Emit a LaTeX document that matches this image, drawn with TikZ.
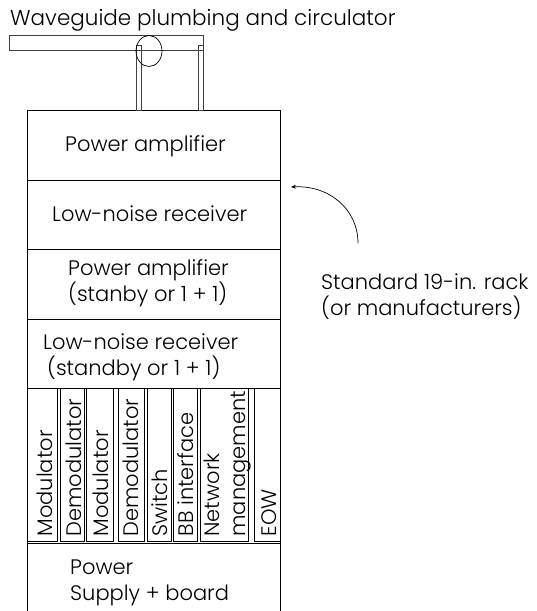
\documentclass[tikz,border=0pt]{standalone}
\usepackage{fontspec}
\setmainfont{Poppins}[UprightFont=* Light]
\usetikzlibrary{arrows.meta,shapes.geometric}
\tikzset{
  x=1pt,y=-1pt,
  thin part/.style={draw=black!75,line width=0.7pt,fill=none},
  llab/.style={font=\fontsize{21}{26}\selectfont,inner sep=0pt,align=left,anchor=base west,text=black},
  vlab/.style={font=\fontsize{21}{21}\selectfont,inner sep=0pt,rotate=90,anchor=base west,text=black},
}
\begin{document}
\begin{tikzpicture}
\useasboundingbox (0,0) rectangle (536,611);
% rack
\coordinate (rTL) at (27,110);
\coordinate (rTR) at (280,110);
\coordinate (rBL) at (27,611);
\coordinate (rBR) at (280,611);
\draw[line width=1pt] (rBL) -- (rTL) -- (rTR) -- (rBR);
\foreach \y in {180,249,319,388,543} \draw[line width=1pt] (27,\y) -- (280,\y);
% slots
\foreach \a/\b/\n in {27/57.5/a,60/84/b,86.5/113/c,118/144.5/d,147.5/171/e,173.5/197.5/f,200/248/g,254/280/h}
  \draw[line width=0.9pt] (\a,388) rectangle (\b,541.5);
% waveguide
\draw[thin part] (9.5,35) rectangle (203,50.5);
\draw[thin part] (136,45.5) rectangle (141.5,110);
\draw[thin part] (198,45.5) rectangle (203,110);
\node[draw=black,line width=0.7pt,ellipse,minimum width=26pt,minimum height=31pt,inner sep=0pt] (circ) at (149,51) {};
% labels
\node[llab,font=\fontsize{21.5}{26}\selectfont] (t) at (10,25) {Waveguide plumbing and circulator};
\node[llab] (pa) at (65,151) {Power amplifier};
\node[llab] (ln) at (52,221) {Low-noise receiver};
\node[llab] (pa2) at (68,301.7) {Power amplifier\\(stanby or 1 + 1)};
\node[llab] (ln2) at (43,375) {Low-noise receiver\\\hspace*{4pt}(standby or 1 + 1)};
\node[llab] (std) at (321,315) {Standard 19-in. rack\\(or manufacturers)};
\node[llab] (ps) at (70,600) {Power\\Supply + board};
\foreach \x/\t in {52/Modulator,81.7/Demodulator,108.7/Modulator,138.7/Demodulator,167.7/Switch,193.7/BB interface,219/Network,245/management,276/EOW}
  \node[vlab] at (\x,536.7) {\t};
% arrow
\coordinate (as) at (358,243);
\coordinate (ae) at (291,187);
\draw[line width=0.7pt,-{Stealth[length=5pt,width=4pt]}] (as) .. controls (358,210) and (330,185) .. (ae);
\end{tikzpicture}
\end{document}
